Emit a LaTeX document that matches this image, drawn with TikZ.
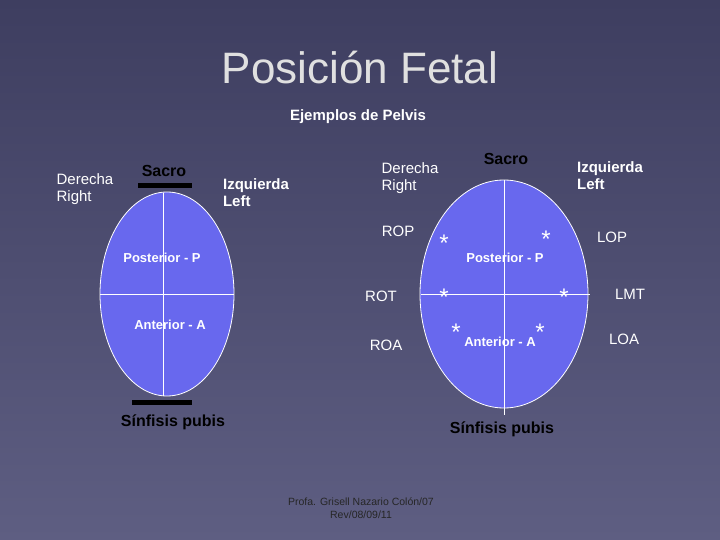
\documentclass[tikz,border=0pt]{standalone}
\usepackage{fontspec}
\setmainfont{Liberation Sans}
\definecolor{bgtop}{HTML}{3E3E60}
\definecolor{bgbot}{HTML}{5E5E82}
\definecolor{pelfill}{HTML}{6868EE}
\begin{document}
\begin{tikzpicture}[x=1pt,y=-1pt,
 lbl/.style={text=white,font=\fontsize{15}{17}\selectfont,align=left},
 blbl/.style={text=white,font=\bfseries\fontsize{15}{17}\selectfont,align=left},
 blk/.style={text=black,font=\bfseries\fontsize{16}{18}\selectfont},
 inl/.style={text=white,font=\bfseries\fontsize{13}{15}\selectfont},
 star/.style={text=white,font=\fontsize{24}{24}\selectfont,inner sep=0pt},
 pel/.style={draw=white,fill=pelfill,line width=0.8pt},
 bar/.style={line width=5pt,black}]
\shade[top color=bgtop, bottom color=bgbot] (0,0) rectangle (720,540);
\useasboundingbox (0,0) rectangle (720,540);
\node[text=black!12,font=\fontsize{44}{48}\selectfont] (t) at (360,68) {Posición Fetal};
\node[blbl] (s) at (358,117) {Ejemplos de Pelvis};
% left pelvis
\path[pel] (167,294) ellipse [x radius=67, y radius=102];
\draw[white,thin] (100,294) -- (234,294) (163,193) -- (163,396);
\draw[bar] (138,186) -- (192,186);
\draw[bar] (132,402) -- (192,402);
\node[lbl] (dr1) at (85,189) {Derecha\\Right};
\node[blk] (sa1) at (164,171) {Sacro};
\node[blbl] (iz1) at (256,193) {Izquierda\\Left};
\node[inl] (p1) at (162,258) {Posterior - P};
\node[inl] (a1) at (170,325) {Anterior - A};
\node[blk] (sp1) at (173,422) {Sínfisis pubis};
% right pelvis
\path[pel] (504,294) ellipse [x radius=84, y radius=114];
\draw[white,thin] (421,294) -- (590,294) (504,180) -- (504,415);
\node[blk] (sa2) at (506,159) {Sacro};
\node[lbl] (dr2) at (410,178) {Derecha\\Right};
\node[blbl] (iz2) at (610,176) {Izquierda\\Left};
\node[inl] (p2) at (505,258) {Posterior - P};
\node[inl] (a2) at (500,342) {Anterior - A};
\node[blk] (sp2) at (502,429) {Sínfisis pubis};
\node[star] (s1) at (444,243) {*};
\node[star] (s2) at (546,239) {*};
\node[star] (s3) at (444,297) {*};
\node[star] (s4) at (564,297) {*};
\node[star] (s5) at (456,332) {*};
\node[star] (s6) at (540,332) {*};
\node[lbl] (rop) at (398,231) {ROP};
\node[lbl] (rot) at (381,296) {ROT};
\node[lbl] (roa) at (386,345) {ROA};
\node[lbl] (lop) at (612,237) {LOP};
\node[lbl] (lmt) at (630,294) {LMT};
\node[lbl] (loa) at (624,339) {LOA};
\node[text=black!85,font=\fontsize{10.5}{12.5}\selectfont,align=center] (f) at (361,508) {Profa. Grisell Nazario Colón/07\\Rev/08/09/11};
\end{tikzpicture}
\end{document}
